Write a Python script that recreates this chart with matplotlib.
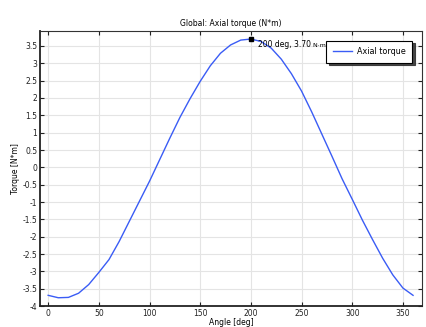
import matplotlib
matplotlib.use("Agg")
import matplotlib.pyplot as plt
from matplotlib.ticker import FuncFormatter, MultipleLocator

# Data
angle = [0, 10, 20, 30, 40, 50, 60, 70, 80, 90, 100, 110, 120, 130, 140, 150,
         160, 170, 180, 190, 200, 210, 220, 230, 240, 250, 260, 270, 280, 290,
         300, 310, 320, 330, 340, 350, 360]
torque = [-3.69, -3.76, -3.75, -3.63, -3.38, -3.03, -2.66, -2.14, -1.56, -0.98,
          -0.40, 0.22, 0.84, 1.44, 1.98, 2.48, 2.93, 3.29, 3.53, 3.67, 3.70,
          3.63, 3.44, 3.12, 2.70, 2.20, 1.60, 0.96, 0.32, -0.33, -0.92, -1.52,
          -2.08, -2.62, -3.10, -3.48, -3.69]
peak_angle = 200
peak_torque = 3.70

plt.rcParams["axes.unicode_minus"] = False
plt.rcParams["font.family"] = "DejaVu Sans"

fig = plt.figure(figsize=(4.26, 3.27), dpi=100)
ax = fig.add_axes([0.094, 0.064, 0.897, 0.841])

ax.plot(angle, torque, color="#3a5cf5", linewidth=1.0, label="Axial torque")

# peak annotation: value text, then a smaller unit right after it
ax.plot([peak_angle], [peak_torque], marker="s", markersize=2.5, color="black")
value_txt = ax.text(peak_angle + 7, peak_torque - 0.03,
                    f"{peak_angle} deg, {peak_torque:.2f}",
                    fontsize=5.5, va="top", ha="left", zorder=6)
ax.annotate(" N\u00b7m", xy=(1, 0.1), xycoords=value_txt, fontsize=4.5,
            va="bottom", ha="left", zorder=6)

ax.set_xlim(-8, 369)
ax.set_ylim(-4, 3.93)
ax.xaxis.set_major_locator(MultipleLocator(50))
ax.yaxis.set_major_locator(MultipleLocator(0.5))
ax.yaxis.set_major_formatter(FuncFormatter(lambda v, p: f"{v:g}"))

ax.grid(True, color="#e4e4e4", linewidth=0.8)
ax.set_axisbelow(True)
ax.tick_params(direction="in", length=3, width=0.8, labelsize=5.5,
               top=True, right=True, pad=2, colors="#222222")
for side in ["left", "bottom"]:
    ax.spines[side].set_linewidth(1.3)
    ax.spines[side].set_color("#222222")
for side in ["top", "right"]:
    ax.spines[side].set_linewidth(0.8)
    ax.spines[side].set_color("#333333")

ax.set_title("Global: Axial torque (N*m)", fontsize=5.5, pad=4)
ax.set_xlabel("Angle [deg]", fontsize=5.5, labelpad=0)
ax.set_ylabel("Torque [N*m]", fontsize=5.5, labelpad=2)

leg = ax.legend(loc="upper right", fontsize=5.8, fancybox=False,
                shadow={"color": "#333333", "alpha": 0.9},
                framealpha=1, edgecolor="black", borderpad=0.8,
                handlelength=2.4, handletextpad=0.6, borderaxespad=0,
                bbox_to_anchor=(0.974, 0.965))
leg.get_frame().set_linewidth(0.8)

fig.savefig("out.png", dpi=100)
